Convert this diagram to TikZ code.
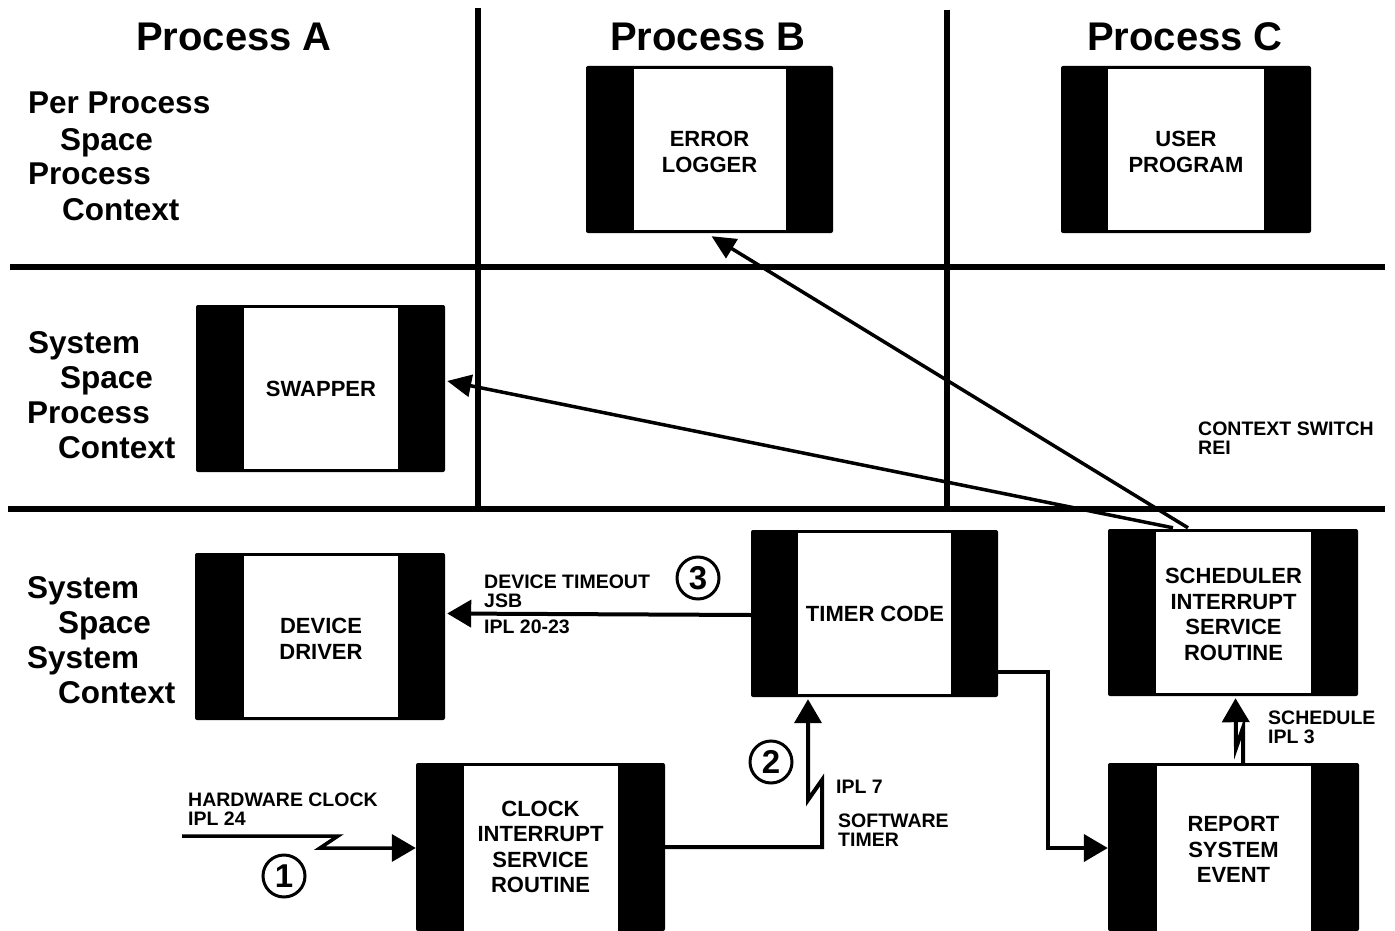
\documentclass[tikz,border=0pt]{standalone}
\usepackage{fontspec}
\setmainfont{Liberation Sans}
\usetikzlibrary{arrows.meta,calc}
\newcommand\bxfont{\bfseries\fontsize{22}{25.5}\selectfont}
\newcommand\lblfont{\bfseries\fontsize{19.5}{18.5}\selectfont}
\newcommand\ttlfont{\bfseries\fontsize{40}{44}\selectfont}
\newcommand\rowfont{\bfseries\fontsize{31.5}{35}\selectfont}
\newcommand\numfont{\bfseries\fontsize{33}{33}\selectfont}
\begin{document}
\begin{tikzpicture}[x=1pt,y=-1pt,
  sepline/.style={line width=5.5pt},
  outerbox/.style={fill=black, inner sep=0, minimum width=250, minimum height=167, rounded corners=2pt},
  innerbox/.style={fill=white, inner sep=0, minimum width=153, minimum height=161},
  bxtext/.style={inner sep=0, align=center, font=\bxfont},
  lbl/.style={anchor=north west, inner sep=0, align=left, font=\lblfont},
  ttl/.style={anchor=base, inner sep=0, font=\ttlfont},
  row/.style={anchor=base west, inner sep=0, font=\rowfont},
  arr/.style={line width=4pt, line join=miter, -{Triangle[length=24pt,width=27pt]}},
  darr/.style={line width=3.5pt, -{Triangle[length=24pt,width=22pt]}},
  circnum/.style={circle, draw, line width=3pt, minimum size=42, inner sep=0, font=\numfont}
]
\useasboundingbox (0,0) rectangle (1395,931);
\fill[white] (0,0) rectangle (1395,931);

% separators
\draw[sepline] (10,267) -- (1385,267);
\draw[sepline] (8,509) -- (1385,509);
\draw[sepline] (478,8) -- (478,507);
\draw[sepline] (947,10) -- (947,507);

% titles
\node[ttl] (tA) at (234,51) {Process A};
\node[ttl] (tB) at (708,51) {Process B};
\node[ttl] (tC) at (1185,51) {Process C};

% row labels
\node[row] (r1a) at (28,114) {Per Process};
\node[row] (r1b) at (60,150) {Space};
\node[row] (r1c) at (28,185) {Process};
\node[row] (r1d) at (62,220) {Context};
\node[row] (r2a) at (28,353) {System};
\node[row] (r2b) at (60,388) {Space};
\node[row] (r2c) at (27,423) {Process};
\node[row] (r2d) at (58,458) {Context};
\node[row] (r3a) at (27,598) {System};
\node[row] (r3b) at (58,633) {Space};
\node[row] (r3c) at (27,668) {System};
\node[row] (r3d) at (58,703) {Context};

% boxes
\node[outerbox, minimum width=247] (errO) at (709.5,149.5) {};
\node[innerbox, minimum width=152] (err) at (709.5,149.5) {};
\node[bxtext] (errT) at (709.5,152) {ERROR\\LOGGER};
\node[outerbox] (usrO) at (1186,149.5) {};
\node[innerbox, minimum width=156] (usr) at (1186,149.5) {};
\node[bxtext] (usrT) at (1186,152) {USER\\PROGRAM};
\node[outerbox, minimum width=249] (swpO) at (320.5,388.5) {};
\node[innerbox, minimum width=154] (swp) at (321,388.5) {};
\node[bxtext] (swpT) at (321,389) {SWAPPER};
\node[outerbox] (devO) at (320,636.5) {};
\node[innerbox, minimum width=154] (dev) at (321,636.5) {};
\node[bxtext] (devT) at (321,639) {DEVICE\\DRIVER};
\node[outerbox, minimum width=247] (tmrO) at (874.5,613.5) {};
\node[innerbox] (tmr) at (874.5,613.5) {};
\node[bxtext] (tmrT) at (875,614) {TIMER CODE};
\node[outerbox] (schO) at (1233,612.5) {};
\node[innerbox, minimum width=155] (sch) at (1233.5,612.5) {};
\node[bxtext] (schT) at (1233.5,614.5) {SCHEDULER\\INTERRUPT\\SERVICE\\ROUTINE};
\node[outerbox, minimum width=249, minimum height=168] (clkO) at (540.5,847) {};
\node[innerbox, minimum width=154, minimum height=165] (clk) at (541,848.5) {};
\node[bxtext] (clkT) at (540.5,847) {CLOCK\\INTERRUPT\\SERVICE\\ROUTINE};
\node[outerbox, minimum width=251, minimum height=168] (repO) at (1233.5,847) {};
\node[innerbox, minimum width=154, minimum height=165] (rep) at (1234,848.5) {};
\node[bxtext] (repT) at (1233.5,849.5) {REPORT\\SYSTEM\\EVENT};

% connectors
\draw[darr] ([shift={(-45,-1)}]schO.north) -- ([shift={(2,3)}]errO.south);
\draw[darr] ([shift={(-60,-1)}]schO.north) -- ([shift={(2,-7.5)}]swpO.east);
\draw[arr] ([shift={(0,1.5)}]tmrO.west) -- ([shift={(2,0)}]tmrO.west -| devO.east);
\draw[arr] ([shift={(0,58.5)}]tmrO.east) -- ++(50,0) |- ([shift={(0,1)}]repO.west);
\draw[arr] (clkO.east) -- (822,847) -- (822,780) -- (808,800) -- ([shift={(-66.5,2)}]tmrO.south);
\coordinate (hw) at (182,836);
\draw[arr, line width=3.5pt] (hw) -- (338,836) -- (320,848) -- ([shift={(0,1)}]clkO.west);
\draw[arr] ([shift={(9.5,0)}]repO.north) -- ++(0,-35) -- (1236,748) -- ([shift={(2.5,2)}]schO.south);

% numbers
\node[circnum] (n1) at (284,876) {1};
\node[circnum] (n2) at (771,762) {2};
\node[circnum] (n3) at (698,578) {3};

% labels
\node[lbl] (lhw) at (188,793) {HARDWARE CLOCK\\IPL 24};
\node[lbl] (ldt) at (484,575) {DEVICE TIMEOUT\\JSB};
\node[lbl] (lipl) at (484,620) {IPL 20-23};
\node[lbl] (l7) at (836,780) {IPL 7};
\node[lbl] (lsw) at (838,814) {SOFTWARE\\TIMER};
\node[lbl] (lsc) at (1268,711) {SCHEDULE\\IPL 3};
\node[lbl] (lcs) at (1198,422) {CONTEXT SWITCH\\REI};
\end{tikzpicture}
\end{document}
